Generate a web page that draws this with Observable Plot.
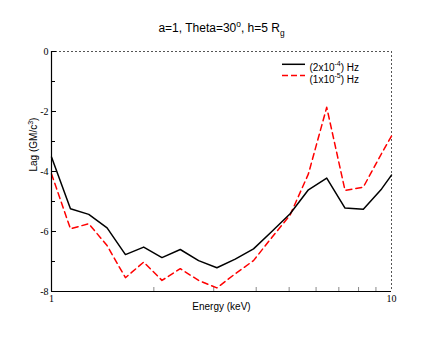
<!DOCTYPE html>
<html>
<head>
<meta charset="utf-8">
<script src="https://cdn.jsdelivr.net/npm/d3@7"></script>
<script src="https://cdn.jsdelivr.net/npm/@observablehq/plot@0.6"></script>
<style>
  html, body { margin: 0; padding: 0; background: #fff; }
</style>
</head>
<body>
<div id="chart"></div>
<script>
// ---- data ----
const energy = [1.00, 1.137, 1.287, 1.457, 1.650, 1.867, 2.113, 2.392, 2.708, 3.065,
                3.470, 3.928, 4.446, 5.033, 5.697, 6.449, 7.300, 8.263, 9.352, 10.0];
const lagHigh = [-3.52, -5.24, -5.43, -5.88, -6.77, -6.52, -6.87, -6.60, -6.97, -7.21,
                 -6.92, -6.58, -6.00, -5.41, -4.61, -4.22, -5.22, -5.26, -4.58, -4.12];
const lagLow  = [-4.08, -5.91, -5.74, -6.47, -7.54, -7.02, -7.63, -7.24, -7.63, -7.88,
                 -7.41, -6.97, -6.20, -5.45, -4.08, -1.86, -4.63, -4.52, -3.40, -2.82];
const yMajorTicks = [-8, -6, -4, -2, 0];
const yMinorTicks = [-7, -5, -3, -1];
const xMajorTicks = [1, 10];
const xMinorTicks = [2, 3, 4, 5, 6, 7, 8, 9];

const highData = energy.map((e, i) => ({energy: e, lag: lagHigh[i]}));
const lowData = energy.map((e, i) => ({energy: e, lag: lagLow[i]}));

const W = 444, H = 343;
const mL = 51, mR = 53, mT = 51, mB = 52;
const fw = W - mL - mR, fh = H - mT - mB;
const sans = "'Liberation Sans', Arial, Helvetica, sans-serif";
const serif = "'Liberation Serif', 'Times New Roman', serif";

const T_TITLE = "a=1, Theta=30o, h=5 Rg";
const T_YLAB = "Lag (GM/c3)";
const T_LEG1 = "(2x10-4) Hz";
const T_LEG2 = "(1x10-5) Hz";

const plot = Plot.plot({
  width: W, height: H,
  marginLeft: mL, marginRight: mR, marginTop: mT, marginBottom: mB,
  style: {fontFamily: sans, background: "#fff", overflow: "visible"},
  x: {type: "log", domain: [1, 10]},
  y: {domain: [-8, 0]},
  marks: [
    Plot.ruleY([0], {stroke: "#555", strokeDasharray: "2,2"}),
    Plot.ruleX([10], {stroke: "#555", strokeDasharray: "2,2"}),
    Plot.tickY(yMajorTicks, {stroke: "#000", insetRight: fw - 5}),
    Plot.tickY(yMinorTicks, {stroke: "#000", insetRight: fw - 4}),
    Plot.tickX(xMinorTicks, {stroke: "#888", insetTop: fh - 4}),
    Plot.axisY({ticks: yMajorTicks, tickSize: 0, tickPadding: 3, label: null,
                fontFamily: serif, fontSize: 10, tickFormat: d => String(d)}),
    Plot.axisX({ticks: xMajorTicks, tickSize: 0, tickPadding: 3, label: null,
                fontFamily: serif, fontSize: 10, tickFormat: d => String(d)}),
    Plot.line(lowData, {x: "energy", y: "lag", stroke: "#ff0000", strokeWidth: 1.5,
                        strokeDasharray: "6,4"}),
    Plot.line(highData, {x: "energy", y: "lag", stroke: "#000", strokeWidth: 1.5}),
    Plot.ruleX([1], {stroke: "#000", strokeWidth: 1.2}),
    Plot.ruleY([-8], {stroke: "#000", strokeWidth: 1.2}),
    Plot.text([T_TITLE], {frameAnchor: "top", dy: -28, fontSize: 12, fill: "#000"}),
    Plot.text(["Energy (keV)"], {frameAnchor: "bottom", dy: 18, fontSize: 10, fill: "#000"}),
    Plot.text([T_YLAB], {frameAnchor: "left", dx: -18, rotate: -90, fontSize: 10, fill: "#000"}),
    Plot.text([T_LEG1], {frameAnchor: "top-right", dx: -82, dy: 12, textAnchor: "start",
                fontSize: 10, fill: "#000"}),
    Plot.text([T_LEG2], {frameAnchor: "top-right", dx: -82, dy: 24, textAnchor: "start",
                fontSize: 10, fill: "#000"})
  ]
});

document.getElementById("chart").appendChild(plot);
const svg = d3.select(plot);
const NS = "http://www.w3.org/2000/svg";

function rich(placeholder, fs, parts) {
  const el = Array.from(plot.querySelectorAll("text")).find(t => t.textContent === placeholder);
  if (!el) return;
  el.textContent = "";
  let shift = 0;
  for (const [s, k] of parts) {
    const ts = document.createElementNS(NS, "tspan");
    const target = k === "sup" ? -0.42 * fs : k === "sub" ? 0.3 * fs : 0;
    ts.setAttribute("dy", (target - shift).toFixed(2));
    shift = target;
    if (k !== "n") ts.setAttribute("font-size", (fs * 0.7).toFixed(1));
    ts.textContent = s;
    el.appendChild(ts);
  }
}
rich(T_TITLE, 12, [["a=1, Theta=30", "n"], ["o", "sup"], [", h=5 R", "n"], ["g", "sub"]]);
rich(T_YLAB, 10, [["Lag (GM/c", "n"], ["3", "sup"], [")", "n"]]);
rich(T_LEG1, 10, [["(2x10", "n"], ["-4", "sup"], [") Hz", "n"]]);
rich(T_LEG2, 10, [["(1x10", "n"], ["-5", "sup"], [") Hz", "n"]]);

// legend sample lines
const xr = W - mR;
const legend = svg.append("g").attr("aria-label", "legend-lines");
legend.append("line").attr("x1", xr - 109).attr("x2", xr - 86)
  .attr("y1", mT + 13.3).attr("y2", mT + 13.3)
  .attr("stroke", "#000").attr("stroke-width", 1.5);
legend.append("line").attr("x1", xr - 109).attr("x2", xr - 86)
  .attr("y1", mT + 24.5).attr("y2", mT + 24.5)
  .attr("stroke", "#ff0000").attr("stroke-width", 1.5).attr("stroke-dasharray", "6,3");
</script>
</body>
</html>
